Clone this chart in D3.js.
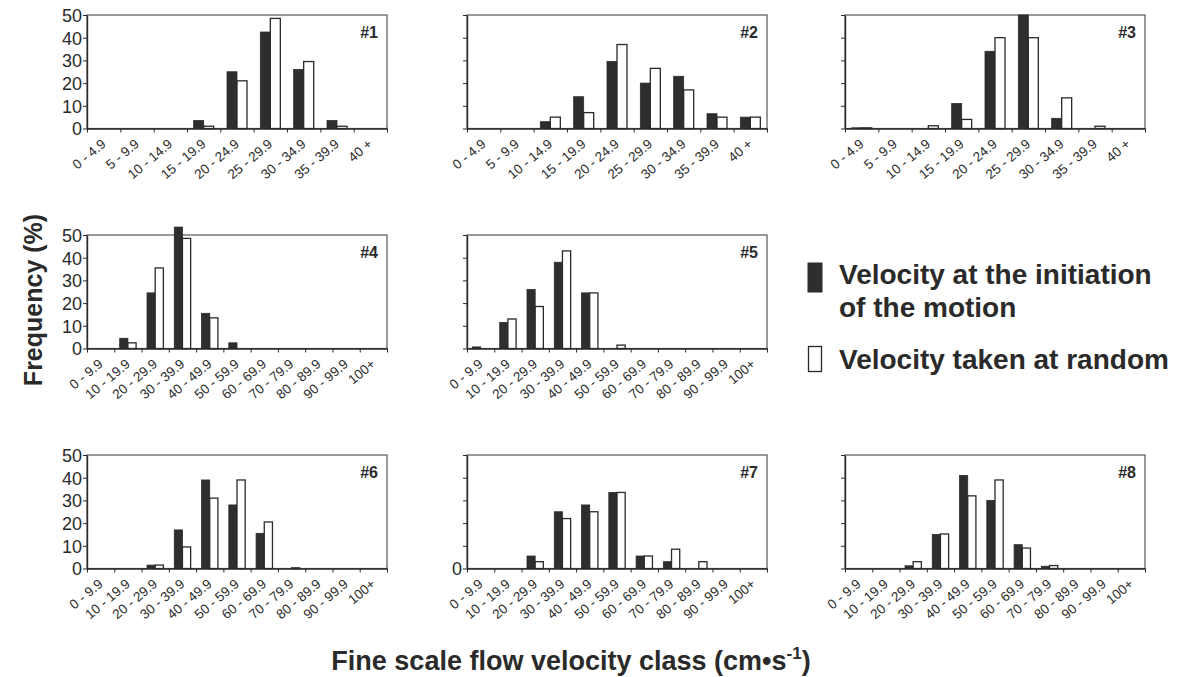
<!DOCTYPE html>
<html>
<head>
<meta charset="utf-8">
<script src="https://cdn.jsdelivr.net/npm/d3@7"></script>
<style>
  html, body { margin: 0; padding: 0; background: #fff; }
  svg { display: block; font-family: "Liberation Sans", Arial, Helvetica, sans-serif; }
</style>
</head>
<body>
<svg id="chart" width="1184" height="677"></svg>
<script>
// ---------- data ----------
const catsShort = ["0 - 4.9","5 - 9.9","10 - 14.9","15 - 19.9","20 - 24.9","25 - 29.9","30 - 34.9","35 - 39.9","40 +"];
const catsLong  = ["0 - 9.9","10 - 19.9","20 - 29.9","30 - 39.9","40 - 49.9","50 - 59.9","60 - 69.9","70 - 79.9","80 - 89.9","90 - 99.9","100+"];
const yTicks = [0, 10, 20, 30, 40, 50];

const p1Init = [0, 0, 0, 3.5, 25, 42.5, 26, 3.5, 0];
const p1Rand = [0, 0, 0, 1, 21, 48.5, 29.5, 1, 0];
const p2Init = [0, 0, 3, 14, 29.5, 20, 23, 6.5, 5];
const p2Rand = [0, 0, 5, 7, 37, 26.5, 17, 5, 5];
const p3Init = [0.3, 0, 0, 11, 34, 50, 4.5, 0, 0];
const p3Rand = [0.3, 0, 1.2, 4, 40, 40, 13.5, 1, 0];
const p4Init = [0, 4.5, 24.5, 53.5, 15.5, 2.5, 0, 0, 0, 0, 0];
const p4Rand = [0, 2.5, 35.5, 48.5, 13.5, 0, 0, 0, 0, 0, 0];
const p5Init = [0.7, 11.5, 26, 38, 24.5, 0, 0, 0, 0, 0, 0];
const p5Rand = [0, 13, 18.5, 43, 24.5, 1.5, 0, 0, 0, 0, 0];
const p6Init = [0, 0, 1.5, 17, 39, 28, 15.5, 0, 0, 0, 0];
const p6Rand = [0, 0, 1.5, 9.5, 31, 39, 20.5, 0.3, 0, 0, 0];
const p7Init = [0, 0, 5.5, 25, 28, 33.5, 5.5, 3, 0, 0, 0];
const p7Rand = [0, 0, 3, 22, 25, 33.5, 5.5, 8.5, 3, 0, 0];
const p8Init = [0, 0, 1.2, 15, 41, 30, 10.5, 1, 0, 0, 0];
const p8Rand = [0, 0, 3, 15.2, 32, 39, 9, 1.3, 0, 0, 0];

const panelNames = ["#1","#2","#3","#4","#5","#6","#7","#8"];
const legendLabels = [["Velocity at the initiation", "of the motion"], ["Velocity taken at random"]];
const yTitle = "Frequency (%)";

// ---------- layout ----------
const INK = "#2a2a2a";
const colX = [87, 467, 845];
const rowY = [15, 235, 455];
const PW = 300, PH = 113.5;

const panels = [
  {name: panelNames[0], cats: catsShort, a: p1Init, b: p1Rand, col: 0, row: 0, yLab: yTicks},
  {name: panelNames[1], cats: catsShort, a: p2Init, b: p2Rand, col: 1, row: 0, yLab: []},
  {name: panelNames[2], cats: catsShort, a: p3Init, b: p3Rand, col: 2, row: 0, yLab: []},
  {name: panelNames[3], cats: catsLong,  a: p4Init, b: p4Rand, col: 0, row: 1, yLab: yTicks},
  {name: panelNames[4], cats: catsLong,  a: p5Init, b: p5Rand, col: 1, row: 1, yLab: []},
  {name: panelNames[5], cats: catsLong,  a: p6Init, b: p6Rand, col: 0, row: 2, yLab: yTicks},
  {name: panelNames[6], cats: catsLong,  a: p7Init, b: p7Rand, col: 1, row: 2, yLab: [0]},
  {name: panelNames[7], cats: catsLong,  a: p8Init, b: p8Rand, col: 2, row: 2, yLab: []}
];

const svg = d3.select("#chart");

panels.forEach(p => {
  const left = colX[p.col], top = rowY[p.row];
  const g = svg.append("g").attr("transform", `translate(${left},${top})`);
  const x = d3.scaleBand().domain(p.cats).range([0, PW]).padding(0);
  const xi = d3.scaleLinear().domain([0, p.cats.length]).range([0, PW]);
  const y = d3.scaleLinear().domain([0, 50]).range([PH, 0]);
  const bw = x.bandwidth();

  // frame
  g.append("rect").attr("x", 0).attr("y", 0).attr("width", PW).attr("height", PH)
    .attr("fill", "none").attr("stroke", "#555").attr("stroke-width", 1.2);

  // bars
  const rows = p.cats.map((c, i) => ({c, a: p.a[i], b: p.b[i]}));
  g.selectAll("rect.init").data(rows.filter(d => d.a > 0)).join("rect")
    .attr("class", "init")
    .attr("x", d => x(d.c) + bw * 0.2).attr("width", bw * 0.3)
    .attr("y", d => y(d.a)).attr("height", d => y(0) - y(d.a))
    .attr("fill", "#2e2e2e").attr("stroke", INK).attr("stroke-width", 0.8);
  g.selectAll("rect.rand").data(rows.filter(d => d.b > 0)).join("rect")
    .attr("class", "rand")
    .attr("x", d => x(d.c) + bw * 0.5).attr("width", bw * 0.3)
    .attr("y", d => y(d.b)).attr("height", d => y(0) - y(d.b))
    .attr("fill", "#fff").attr("stroke", INK).attr("stroke-width", 1.3);

  // y axis
  const ya = g.append("g").call(d3.axisLeft(y).tickValues(yTicks).tickSize(4).tickSizeOuter(0)
    .tickFormat(v => p.yLab.includes(v) ? v : ""));
  ya.select(".domain").attr("stroke", INK).attr("stroke-width", 1.4);
  ya.selectAll(".tick line").attr("stroke", INK);
  ya.selectAll(".tick text").attr("fill", INK).attr("font-size", 18).attr("x", -5).attr("dy", "0.36em");

  // x axis (ticks at category boundaries)
  const xa = g.append("g").attr("transform", `translate(0,${PH})`)
    .call(d3.axisBottom(xi).tickValues(d3.range(p.cats.length + 1)).tickSize(4).tickSizeOuter(0).tickFormat(""));
  xa.select(".domain").attr("stroke", INK).attr("stroke-width", 1.4);
  xa.selectAll(".tick line").attr("stroke", INK);

  // x labels
  g.selectAll("text.xl").data(p.cats).join("text")
    .attr("class", "xl")
    .attr("transform", c => `translate(${x(c) + bw / 2 + 3},${PH + 17}) rotate(-40)`)
    .attr("text-anchor", "end")
    .attr("font-size", 13.5)
    .attr("fill", INK)
    .text(c => c);

  // panel name
  g.append("text").attr("x", PW - 9).attr("y", 23).attr("text-anchor", "end")
    .attr("font-size", 16).attr("font-weight", "bold").attr("fill", INK).text(p.name);
});

// y title
svg.append("text").attr("transform", "translate(42,300) rotate(-90)")
  .attr("text-anchor", "middle").attr("font-size", 25).attr("font-weight", "bold")
  .attr("fill", INK).text(yTitle);

// x title
const xt = svg.append("text").attr("x", 571).attr("y", 670).attr("text-anchor", "middle")
  .attr("font-size", 27).attr("font-weight", "bold").attr("fill", INK);
xt.append("tspan").text("Fine scale flow velocity class (cm\u2022s");
xt.append("tspan").attr("font-size", 17).attr("dy", -11).text("-1");
xt.append("tspan").attr("dy", 11).text(")");

// legend
const lg = svg.append("g");
lg.append("rect").attr("x", 808).attr("y", 263).attr("width", 14).attr("height", 29)
  .attr("fill", "#2e2e2e").attr("stroke", INK);
lg.append("rect").attr("x", 808.5).attr("y", 346.5).attr("width", 13).attr("height", 25)
  .attr("fill", "#fff").attr("stroke", INK).attr("stroke-width", 1.3);
lg.append("text").attr("x", 839).attr("y", 284).attr("font-size", 28).attr("font-weight", "bold")
  .attr("fill", INK).text(legendLabels[0][0]);
lg.append("text").attr("x", 839).attr("y", 317).attr("font-size", 28).attr("font-weight", "bold")
  .attr("fill", INK).text(legendLabels[0][1]);
lg.append("text").attr("x", 839).attr("y", 369).attr("font-size", 28).attr("font-weight", "bold")
  .attr("fill", INK).text(legendLabels[1][0]);
</script>
</body>
</html>
